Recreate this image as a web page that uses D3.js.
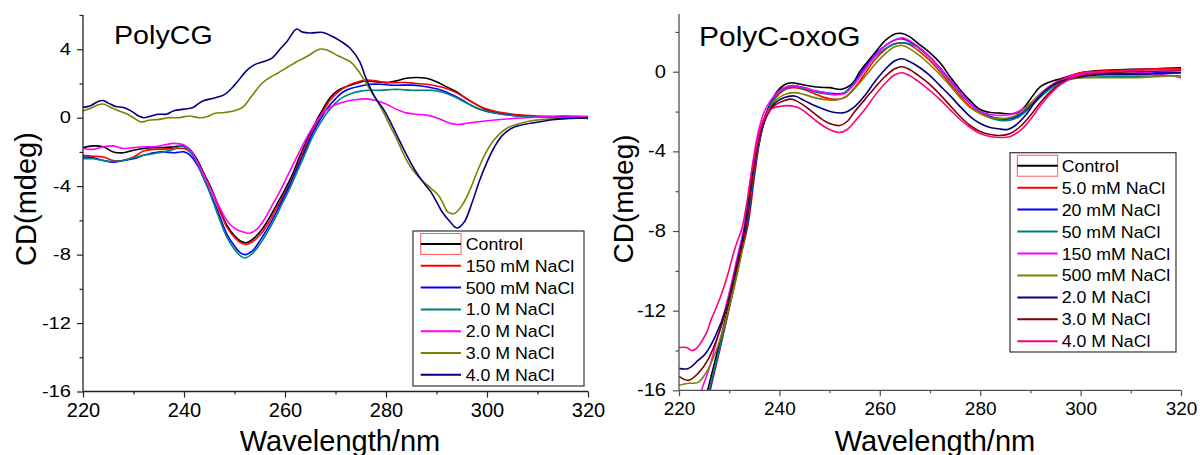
<!DOCTYPE html>
<html><head><meta charset="utf-8">
<script src="https://cdn.jsdelivr.net/npm/d3@7/dist/d3.min.js"></script>
<style>
html,body{margin:0;padding:0;background:#fff;}
svg{display:block;font-family:"Liberation Sans",Arial,sans-serif;}
</style></head>
<body><svg id="chart" width="1200" height="455"></svg>
<script>
// ---------------- DATA ----------------
const xTicksMajor = [220, 240, 260, 280, 300, 320];
const xTicksMinor = [230, 250, 270, 290, 310];
const leftYTicksMajor = [-16, -12, -8, -4, 0, 4];
const leftYTicksMinor = [-14, -10, -6, -2, 2, 6];
const rightYTicksMajor = [-16, -12, -8, -4, 0];
const rightYTicksMinor = [-14, -10, -6, -2, 2];

const leftTitle = "PolyCG";
const rightTitle = "PolyC-oxoG";
const leftLabels = ["Control", "150 mM NaCl", "500 mM NaCl", "1.0 M NaCl", "2.0 M NaCl", "3.0 M NaCl", "4.0 M NaCl"];
const leftColors = ["#000000", "#ff0000", "#0000ff", "#008080", "#ff00ff", "#808000", "#000080"];
const rightLabels = ["Control", "5.0 mM NaCl", "20 mM NaCl", "50 mM NaCl", "150 mM NaCl", "500 mM NaCl", "2.0 M NaCl", "3.0 M NaCl", "4.0 M NaCl"];
const rightColors = ["#000000", "#ff0000", "#0000ff", "#008080", "#ff00ff", "#808000", "#000080", "#800000", "#ff0080"];

// PolyCG series: [wavelength, CD]
const cgControl = [[220,-1.75],[222,-1.65],[224,-1.7],[226,-2.0],[228,-2.05],[230,-1.9],[232,-1.8],[234,-1.75],[236,-1.75],[238,-1.7],[240,-1.65],[241,-1.8],[242.5,-2.4],[244,-3.3],[245.5,-4.2],[247,-5.3],[248.5,-6.3],[250,-6.9],[251.5,-7.25],[252.5,-7.3],[254,-7.0],[255.5,-6.5],[257,-5.8],[258.5,-5.0],[260,-4.2],[261.5,-3.3],[263,-2.2],[264.5,-1.2],[266,-0.3],[267.5,0.5],[269,1.2],[270.5,1.6],[272,1.8],[274,2.0],[276,2.15],[278,2.1],[280,2.05],[282,2.15],[284,2.3],[286,2.35],[288,2.3],[290,2.1],[292,1.8],[294,1.5],[296,1.1],[298,0.75],[300,0.45],[302,0.3],[304,0.2],[307,0.1],[310,0.05],[314,0.0],[317,0.0],[320,-0.05]];
const cg150mM = [[220,-2.2],[222,-2.25],[224,-2.3],[226,-2.5],[228,-2.5],[230,-2.3],[232,-1.95],[234,-1.85],[236,-1.85],[238,-1.8],[240,-1.8],[241,-1.95],[242.5,-2.5],[244,-3.4],[245.5,-4.3],[247,-5.4],[248.5,-6.4],[250,-7.0],[251.5,-7.35],[252.6,-7.4],[254,-7.15],[255.5,-6.7],[257,-6.0],[258.5,-5.2],[260,-4.4],[261.5,-3.5],[263,-2.4],[264.5,-1.4],[266,-0.5],[267.5,0.35],[269,1.05],[270.5,1.5],[272,1.8],[274,2.05],[276,2.2],[278,2.15],[280,2.05],[282,2.05],[284,2.05],[286,2.0],[288,1.95],[290,1.85],[292,1.7],[294,1.45],[296,1.1],[298,0.75],[300,0.5],[302,0.35],[304,0.25],[307,0.15],[310,0.1],[314,0.05],[317,0.0],[320,0.0]];
const cg500mM = [[220,-2.3],[222,-2.35],[224,-2.5],[226,-2.6],[228,-2.5],[230,-2.4],[232,-2.2],[234,-2.05],[236,-2.0],[238,-2.05],[240,-2.0],[241,-2.15],[242.5,-2.7],[244,-3.6],[245.5,-4.6],[247,-5.7],[248.5,-6.8],[250,-7.5],[251.2,-7.9],[252.2,-8.0],[253.5,-7.8],[255,-7.2],[256.5,-6.5],[258,-5.7],[259.5,-4.8],[261,-3.9],[262.5,-2.9],[264,-1.9],[265.5,-0.9],[267,-0.1],[268.5,0.6],[270,1.1],[271.5,1.5],[273,1.7],[275,1.85],[277,1.95],[279,1.95],[281,1.9],[283,1.9],[285,1.9],[287,1.85],[289,1.75],[291,1.6],[293,1.35],[295,1.05],[297,0.7],[299,0.45],[301,0.3],[303,0.2],[306,0.1],[310,0.05],[314,0.05],[317,0.05],[320,0.05]];
const cg1M = [[220,-2.4],[222,-2.4],[224,-2.5],[226,-2.55],[228,-2.5],[230,-2.35],[232,-2.2],[234,-2.1],[236,-2.0],[238,-1.85],[239.5,-1.65],[241,-1.95],[242.5,-2.6],[244,-3.6],[245.5,-4.7],[247,-5.9],[248.5,-7.0],[250,-7.7],[251.3,-8.1],[252,-8.2],[253.5,-7.95],[255,-7.4],[256.5,-6.7],[258,-5.9],[259.5,-5.0],[261,-4.1],[262.5,-3.1],[264,-2.1],[265.5,-1.1],[267,-0.3],[268.5,0.35],[270,0.85],[271.5,1.2],[273,1.4],[275,1.55],[277,1.6],[279,1.6],[281,1.65],[283,1.65],[285,1.6],[287,1.6],[289,1.6],[291,1.5],[293,1.3],[295,1.0],[297,0.7],[299,0.45],[301,0.3],[303,0.2],[306,0.1],[310,0.05],[314,0.0],[317,0.0],[320,0.0]];
const cg2M = [[220,-1.8],[222,-1.85],[224,-1.7],[226,-1.65],[228,-1.8],[230,-1.75],[232,-1.7],[234,-1.7],[236,-1.6],[238,-1.5],[240,-1.6],[241.5,-2.0],[243,-2.8],[244.5,-3.7],[246,-4.6],[247.5,-5.5],[249,-6.2],[250.5,-6.55],[252,-6.7],[253,-6.75],[254.5,-6.5],[256,-5.9],[257.5,-5.1],[259,-4.3],[260.5,-3.4],[262,-2.5],[263.5,-1.6],[265,-0.8],[266.5,-0.1],[268,0.4],[270,0.75],[272,0.95],[274,1.05],[276,1.1],[278,1.0],[280,0.8],[282,0.5],[284,0.28],[286,0.2],[288,0.15],[290,0.0],[292,-0.25],[294,-0.4],[296,-0.33],[298,-0.25],[300,-0.18],[302,-0.12],[305,-0.05],[308,0.0],[311,0.05],[314,0.1],[317,0.1],[320,0.08]];
const cg3M = [[220,0.4],[221.5,0.55],[223,0.75],[224,0.8],[225.5,0.6],[227,0.4],[228.5,0.25],[230,0.0],[231.5,-0.25],[233,-0.15],[235,-0.1],[237,0.0],[239,0.0],[241,0.1],[243,0.0],[244.5,0.05],[246,0.25],[248,0.3],[250,0.4],[251.6,0.6],[253.5,1.3],[255.4,2.0],[257,2.35],[258.5,2.6],[260.5,2.95],[262.3,3.27],[264.5,3.6],[266.8,4.0],[268.3,3.96],[270.6,3.6],[272.9,3.27],[274.4,2.78],[275.9,2.09],[276.7,1.7],[278.2,1.0],[279.7,0.2],[281,-0.6],[282,-1.16],[283.2,-1.95],[284.3,-2.6],[285.8,-3.25],[287.3,-3.7],[288.8,-4.1],[290.3,-4.5],[291.3,-5.0],[292.2,-5.5],[293.5,-5.6],[295,-5.15],[296.5,-4.3],[298,-3.2],[299.5,-2.2],[301,-1.45],[302.5,-0.95],[304,-0.6],[306,-0.38],[308,-0.22],[311,-0.1],[315,-0.05],[318,0.0],[320,0.0]];
const cg4M = [[220,0.6],[221.5,0.7],[223,0.95],[224,1.0],[225,0.85],[226.5,0.65],[228,0.6],[229.5,0.4],[231,0.1],[232,0.0],[233.5,0.1],[235,0.2],[236.5,0.2],[238,0.4],[240,0.5],[241.8,0.6],[243,0.85],[244,1.0],[246,1.15],[248,1.35],[250,1.9],[252.4,2.75],[254,3.1],[256,3.3],[257.5,3.5],[259,4.0],[260.5,4.5],[262.3,5.18],[263.5,5.0],[265,4.95],[267.5,4.98],[269,4.8],[270.6,4.55],[272.9,4.06],[274.8,3.27],[275.9,2.4],[277.8,1.2],[279.7,0.4],[281.2,-0.45],[282.7,-1.36],[284.2,-2.25],[285.8,-3.1],[287.3,-3.75],[288.8,-4.3],[290,-4.9],[291.1,-5.5],[292.6,-6.05],[294.1,-6.45],[295.5,-6.1],[297,-5.0],[298.5,-3.7],[300,-2.6],[301.5,-1.7],[303,-1.05],[305,-0.6],[307.5,-0.38],[310,-0.27],[313,-0.12],[316,-0.05],[320,0.0]];

// PolyC-oxoG series
const oxoControl = [[224.3,-17.5],[225.7,-16],[228,-13.7],[230,-11.6],[232,-9.3],[233.4,-7.6],[234.4,-5.6],[235.3,-4.0],[236.5,-2.7],[238,-1.7],[239.5,-1.0],[241,-0.65],[242.5,-0.55],[244,-0.62],[246,-0.72],[248,-0.78],[250,-0.8],[252.4,-0.88],[254.5,-0.6],[256,0.0],[257.7,0.55],[259.5,1.1],[261,1.55],[263,1.9],[264.5,1.92],[266,1.75],[268,1.35],[270,0.95],[272,0.45],[274,-0.25],[276,-0.9],[278,-1.45],[280,-1.9],[282,-2.05],[284,-2.08],[286,-2.12],[287.5,-2.05],[289,-1.72],[290.5,-1.2],[292,-0.75],[294,-0.5],[296,-0.35],[298,-0.2],[300,-0.05],[303,0.05],[306,0.08],[310,0.12],[315,0.15],[320,0.2]];
const oxo5mM = [[224.8,-17.5],[226.2,-16],[228,-14.1],[230,-11.9],[232,-9.6],[233.8,-7.6],[235,-5.3],[236,-3.6],[237,-2.5],[238.5,-1.6],[240,-1.1],[241.5,-0.85],[243,-0.8],[245,-0.9],[247,-1.1],[249,-1.3],[251,-1.38],[253,-1.3],[255,-0.8],[257,-0.1],[259,0.6],[261,1.1],[263,1.4],[264.5,1.45],[266,1.35],[268,1.0],[270,0.55],[272,0.0],[274,-0.6],[276,-1.2],[278,-1.75],[280,-2.1],[282,-2.3],[284,-2.4],[286,-2.35],[288,-2.15],[290,-1.7],[292,-1.15],[294,-0.7],[296,-0.4],[298,-0.2],[300,-0.05],[305,0.05],[310,0.1],[315,0.15],[320,0.15]];
const oxo20mM = [[224.7,-17.5],[226.1,-16],[228,-14],[230,-11.8],[232,-9.5],[233.7,-7.6],[234.8,-5.5],[235.8,-3.8],[237,-2.5],[238.5,-1.5],[240,-0.95],[241.5,-0.75],[243,-0.7],[245,-0.8],[247,-0.95],[249,-1.05],[251,-1.1],[253,-1.05],[255,-0.5],[257,0.2],[259,0.85],[261,1.3],[263,1.6],[264.5,1.65],[266,1.5],[268,1.15],[270,0.7],[272,0.15],[274,-0.45],[276,-1.05],[278,-1.6],[280,-2.0],[282,-2.25],[284,-2.35],[286,-2.35],[288,-2.15],[290,-1.7],[292,-1.15],[294,-0.75],[296,-0.45],[298,-0.3],[300,-0.2],[305,-0.1],[310,-0.1],[315,-0.05],[320,-0.05]];
const oxo50mM = [[224.6,-17.5],[226,-16],[228,-14],[230,-11.8],[232,-9.5],[233.6,-7.6],[234.7,-5.5],[235.7,-3.8],[237,-2.5],[238.5,-1.55],[240,-1.0],[241.5,-0.8],[243,-0.75],[245,-0.85],[247,-1.0],[249,-1.1],[251,-1.15],[253,-1.05],[255,-0.55],[257,0.1],[259,0.75],[261,1.15],[263,1.4],[265,1.45],[267,1.3],[269,0.95],[271,0.45],[273,-0.1],[275,-0.7],[277,-1.3],[279,-1.85],[281,-2.2],[283,-2.4],[285.5,-2.45],[287.5,-2.3],[289.5,-1.9],[291.5,-1.4],[293.5,-0.95],[295.5,-0.6],[297.5,-0.4],[300,-0.3],[305,-0.25],[310,-0.25],[315,-0.2],[320,-0.2]];
const oxo150mM = [[223.5,-17],[224.5,-16],[226,-14.9],[227.2,-13.8],[228.7,-12.4],[230.3,-10.8],[231.8,-9.1],[232.9,-7.9],[233.9,-6.0],[234.8,-4.4],[235.8,-3.0],[237,-2.0],[238.5,-1.35],[240,-0.95],[241.5,-0.75],[243,-0.7],[245,-0.8],[247,-0.95],[249,-1.05],[251,-1.15],[253,-1.1],[255,-0.6],[257,0.1],[259,0.8],[261,1.3],[263,1.6],[264.5,1.7],[266,1.55],[268,1.2],[270,0.75],[272,0.2],[274,-0.4],[276,-1.0],[278,-1.6],[280,-2.0],[282,-2.15],[284,-2.2],[286,-2.15],[288,-1.95],[290,-1.6],[292,-1.1],[294,-0.7],[296,-0.45],[298,-0.25],[300,-0.1],[305,0.0],[310,0.0],[315,-0.1],[318,-0.2],[320,-0.3]];
const oxo500mM = [[220,-15.75],[221.9,-15.65],[223.8,-15.6],[225.3,-15.15],[227.2,-14.15],[229.5,-12.3],[231.8,-9.95],[233.3,-7.9],[234.3,-6.0],[235.2,-4.4],[236.2,-3.1],[237.5,-2.1],[239,-1.5],[241,-1.15],[243,-1.05],[245,-1.15],[247,-1.3],[249,-1.4],[251.5,-1.42],[253.5,-1.2],[255.5,-0.7],[257.5,-0.1],[259.5,0.5],[261.5,1.0],[263,1.25],[264.5,1.32],[266,1.15],[268,0.8],[270,0.35],[272,-0.15],[274,-0.7],[276,-1.3],[278,-1.8],[280,-2.1],[282,-2.3],[284,-2.35],[286,-2.3],[288,-2.05],[290,-1.6],[292,-1.1],[294,-0.75],[296,-0.5],[298,-0.35],[300,-0.3],[305,-0.3],[310,-0.3],[315,-0.25],[320,-0.2]];
const oxo2M = [[220,-14.9],[221.9,-14.9],[223.8,-14.5],[225.3,-14.15],[227.2,-13.3],[229.5,-11.8],[231.4,-9.8],[232.9,-8.1],[234,-6.2],[235,-4.6],[236,-3.3],[237.5,-2.2],[239,-1.6],[241,-1.3],[243,-1.22],[245,-1.45],[247,-1.7],[249,-1.9],[251,-2.05],[253,-2.05],[255,-1.75],[257,-1.2],[259,-0.5],[261,0.1],[263,0.55],[264.5,0.65],[266,0.5],[268,0.2],[270,-0.2],[272,-0.7],[274,-1.2],[276,-1.75],[278,-2.25],[280,-2.6],[282,-2.8],[284,-2.88],[285.5,-2.9],[287,-2.7],[289,-2.2],[291,-1.5],[293,-0.95],[295,-0.6],[297,-0.4],[300,-0.25],[305,-0.15],[310,-0.15],[315,-0.1],[320,-0.05]];
const oxo3M = [[220,-15.3],[221.9,-15.5],[223.8,-15.15],[225.7,-14.5],[228,-13.1],[230.3,-11.1],[232.2,-9.1],[233.3,-7.9],[234.3,-6.0],[235.2,-4.4],[236.2,-3.1],[237.5,-2.2],[239,-1.7],[241,-1.45],[242.5,-1.38],[244,-1.55],[246,-1.9],[248,-2.3],[250,-2.6],[252,-2.7],[253.5,-2.5],[255,-2.0],[257,-1.4],[259,-0.8],[261,-0.25],[263,0.15],[264.5,0.25],[266,0.1],[268,-0.25],[270,-0.65],[272,-1.15],[274,-1.7],[276,-2.25],[278,-2.7],[280,-3.0],[282,-3.15],[284,-3.2],[286,-3.1],[288,-2.75],[290,-2.2],[292,-1.55],[294,-1.0],[296,-0.6],[298,-0.35],[300,-0.2],[305,-0.05],[310,0.0],[320,0.05]];
const oxo4M = [[220,-13.85],[221.5,-13.85],[222.6,-14.0],[223.5,-13.9],[224.5,-13.55],[225.5,-13.1],[226.4,-12.45],[227.5,-11.8],[228.7,-11.0],[229.7,-10.2],[230.6,-9.35],[231.5,-8.6],[232.5,-7.9],[233.5,-6.6],[234.5,-5.0],[235.5,-3.6],[236.5,-2.6],[237.5,-2.1],[238.5,-1.85],[240,-1.75],[241.5,-1.7],[243,-1.75],[244.5,-1.9],[246,-2.2],[248,-2.6],[250,-2.9],[252,-3.05],[253.5,-2.9],[255,-2.5],[257,-1.9],[259,-1.2],[261,-0.6],[263,-0.15],[264.5,-0.05],[266,-0.2],[268,-0.55],[270,-0.95],[272,-1.4],[274,-1.9],[276,-2.4],[278,-2.8],[280,-3.1],[282,-3.25],[284,-3.3],[286,-3.25],[288,-2.95],[290,-2.4],[292,-1.7],[294,-1.1],[296,-0.65],[298,-0.35],[300,-0.15],[303,-0.05],[306,0.0],[310,0.05],[315,0.1],[320,0.1]];

const leftSeries = [cgControl, cg150mM, cg500mM, cg1M, cg2M, cg3M, cg4M];
const rightSeries = [oxoControl, oxo5mM, oxo20mM, oxo50mM, oxo150mM, oxo500mM, oxo2M, oxo3M, oxo4M];

// ---------------- DRAW ----------------
const svg = d3.select("#chart");
const fmt = d => String(d);  // plain hyphen-minus as in the reference

function scaledText(g, x, y, str, size, sx, anchor) {
  return g.append("text")
    .attr("transform", `translate(${x},${y}) scale(${sx},1)`)
    .attr("font-size", size).attr("text-anchor", anchor || "start")
    .attr("fill", "#000").text(str);
}

function panel(cfg) {
  const g = svg.append("g");
  const x = d3.scaleLinear().domain([220, 320]).range([cfg.x0, cfg.x1]);
  const y = d3.scaleLinear().domain(cfg.yDomain).range([cfg.yBottom, cfg.yTop]);
  const id = "clip" + cfg.name;
  svg.append("clipPath").attr("id", id).append("rect")
    .attr("x", cfg.x0).attr("y", cfg.yTop).attr("width", cfg.x1 - cfg.x0).attr("height", cfg.yBottom - cfg.yTop);

  const line = d3.line().x(d => x(d[0])).y(d => y(d[1])).curve(d3.curveCatmullRom.alpha(0.5));
  const lg = g.append("g").attr("clip-path", `url(#${id})`);
  cfg.series.forEach((s, i) => {
    lg.append("path").datum(s).attr("d", line).attr("fill", "none")
      .attr("stroke", cfg.colors[i]).attr("stroke-width", 1.6).attr("stroke-linejoin", "round");
  });

  // axes
  const ax = g.append("g").attr("transform", `translate(0,${cfg.yBottom})`)
    .call(d3.axisBottom(x).tickValues(xTicksMajor).tickSize(6).tickPadding(5).tickFormat(fmt));
  g.append("g").attr("transform", `translate(0,${cfg.yBottom})`)
    .call(d3.axisBottom(x).tickValues(xTicksMinor).tickSize(3).tickFormat(""))
    .call(a => a.select(".domain").remove());
  ax.selectAll("text").attr("font-size", cfg.xFont).attr("fill", "#000")
    .attr("font-family", "Liberation Sans, Arial, sans-serif");

  const ay = g.append("g").attr("transform", `translate(${cfg.x0},0)`)
    .call(d3.axisLeft(y).tickValues(cfg.yMajor).tickSize(6).tickFormat(fmt));
  g.append("g").attr("transform", `translate(${cfg.x0},0)`)
    .call(d3.axisLeft(y).tickValues(cfg.yMinor).tickSize(3.5).tickFormat(""))
    .call(a => a.select(".domain").remove());
  ay.selectAll("text").attr("font-size", cfg.yFont).attr("fill", "#000")
    .attr("font-family", "Liberation Sans, Arial, sans-serif")
    .attr("transform", `scale(${cfg.ySx},1)`).attr("x", -cfg.yGap / cfg.ySx);

  [ax, ay].forEach(a => { a.select(".domain").attr("d", null); });
  g.append("line").attr("x1", cfg.x0).attr("x2", cfg.x1).attr("y1", cfg.yBottom).attr("y2", cfg.yBottom)
    .attr("stroke", cfg.axisColor).attr("stroke-width", 1.3);
  g.append("line").attr("x1", cfg.x0).attr("x2", cfg.x0).attr("y1", cfg.yTop).attr("y2", cfg.yBottom)
    .attr("stroke", cfg.axisColor).attr("stroke-width", 1.3);
  g.selectAll(".tick line").attr("stroke", cfg.axisColor).attr("stroke-width", 1.2);

  // axis titles
  g.append("text").attr("x", cfg.xTitleX).attr("y", cfg.xTitleY).attr("text-anchor", "middle")
    .attr("font-size", cfg.titleFont).attr("fill", "#000").text("Wavelength/nm");
  g.append("text").attr("transform", `translate(${cfg.yTitleX},${cfg.yTitleY}) rotate(-90)`)
    .attr("text-anchor", "middle").attr("font-size", cfg.yTitleFont).attr("fill", "#000").text("CD(mdeg)");

  // panel title
  scaledText(g, cfg.tX, cfg.tY, cfg.title, cfg.tFont, cfg.tSx);

  // legend
  const L = cfg.legend;
  g.append("rect").attr("x", L.x).attr("y", L.y).attr("width", L.w).attr("height", L.h)
    .attr("fill", "#fff").attr("stroke", "#333").attr("stroke-width", 1.2);
  cfg.labels.forEach((lab, i) => {
    const cy = L.row0 + i * L.dy;
    if (i === 0) {
      g.append("rect").attr("x", L.lx0).attr("y", cy - 10.5).attr("width", L.lx1 - L.lx0).attr("height", 21)
        .attr("fill", "none").attr("stroke", "#ff5a5a").attr("stroke-width", 1);
    }
    g.append("line").attr("x1", L.lx0).attr("x2", L.lx1).attr("y1", cy).attr("y2", cy)
      .attr("stroke", cfg.colors[i]).attr("stroke-width", 2);
    scaledText(g, L.tx, cy + 6, lab, L.font, L.sx);
  });
}

panel({
  name: "L", x0: 83, x1: 588, yTop: 15, yBottom: 391.5, yDomain: [-16, 6],
  yMajor: leftYTicksMajor, yMinor: leftYTicksMinor, series: leftSeries, colors: leftColors, labels: leftLabels,
  xFont: 20, yFont: 16.5, ySx: 1.22, yGap: 12, axisColor: "#222",
  xTitleX: 340, xTitleY: 451, titleFont: 29, yTitleX: 36, yTitleY: 199, yTitleFont: 29,
  title: leftTitle, tX: 114, tY: 43.5, tFont: 25.6, tSx: 1.12,
  legend: {x: 413, y: 231, w: 171, h: 155, row0: 244, dy: 21.8, lx0: 420.7, lx1: 461, tx: 465.7, font: 16.3, sx: 1.09}
});
panel({
  name: "R", x0: 679, x1: 1181, yTop: 14, yBottom: 390.3, yDomain: [-16, 2.9],
  yMajor: rightYTicksMajor, yMinor: rightYTicksMinor, series: rightSeries, colors: rightColors, labels: rightLabels,
  xFont: 19, yFont: 17.5, ySx: 1.15, yGap: 13, axisColor: "#505050",
  xTitleX: 935, xTitleY: 451, titleFont: 29, yTitleX: 633, yTitleY: 199, yTitleFont: 28,
  title: rightTitle, tX: 699, tY: 45.5, tFont: 28, tSx: 1.07,
  legend: {x: 1010, y: 152.7, w: 166, h: 199.3, row0: 165.7, dy: 21.95, lx0: 1017.3, lx1: 1057.7, tx: 1061.7, font: 16.3, sx: 1.09}
});
</script></body></html>
